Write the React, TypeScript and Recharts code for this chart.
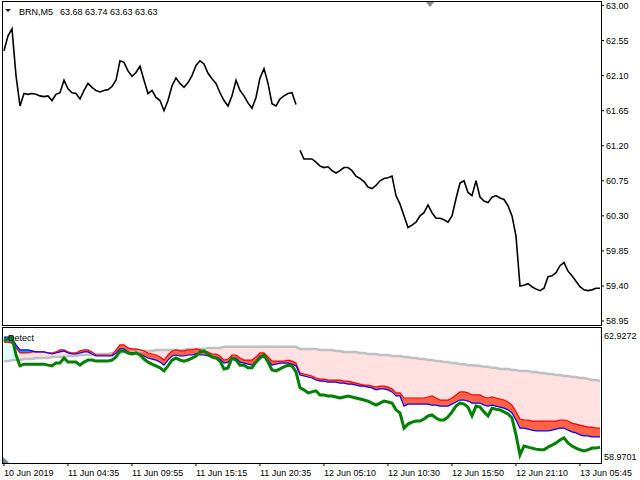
import React from "react";
import { LineChart, Line, ComposedChart, Area, XAxis, YAxis } from "recharts";

const FONT = '"Liberation Sans", Arial, sans-serif';

// x axis: one point per 4 bars (M5), tick every 16 points
const tickIdx = [0, 16, 32, 48, 64, 80, 96, 112, 128, 144];
const tickLabels = [
    "10 Jun 2019",
    "11 Jun 04:35",
    "11 Jun 09:55",
    "11 Jun 15:15",
    "11 Jun 20:35",
    "12 Jun 05:10",
    "12 Jun 10:30",
    "12 Jun 15:50",
    "12 Jun 21:10",
    "13 Jun 05:45",
];
const priceTicks = [63.0, 62.55, 62.1, 61.65, 61.2, 60.75, 60.3, 59.85, 59.4, 58.95];
const indMax = 62.9272;
const indMin = 58.9701;
const sessionBreak = 74; // first point of the 12 Jun session

const price = [
    62.42, 62.61, 62.70, 62.10, 61.71, 61.87, 61.86, 61.87, 61.86, 61.84,
    61.83, 61.84, 61.78, 61.86, 61.88, 62.04, 61.93, 61.88, 61.87, 61.80,
    61.91, 62.00, 61.95, 61.91, 61.89, 61.91, 61.92, 61.96, 62.04, 62.29,
    62.27, 62.16, 62.09, 62.14, 62.22, 62.04, 61.87, 61.91, 61.82, 61.78,
    61.65, 61.78, 61.97, 62.07, 62.00, 61.95, 62.01, 62.10, 62.23, 62.29,
    62.25, 62.13, 62.06, 62.00, 61.88, 61.78, 61.71, 61.84, 62.04, 61.91,
    61.84, 61.75, 61.68, 61.82, 62.07, 62.19, 62.00, 61.74, 61.71, 61.80,
    61.84, 61.87, 61.88, 61.73, 61.14, 61.03, 61.03, 61.03, 60.99, 60.94,
    60.92, 60.93, 60.88, 60.85, 60.88, 60.92, 60.92, 60.88, 60.81, 60.78,
    60.74, 60.67, 60.65, 60.69, 60.75, 60.78, 60.79, 60.81, 60.56, 60.45,
    60.30, 60.15, 60.18, 60.22, 60.30, 60.34, 60.44, 60.34, 60.27, 60.27,
    60.25, 60.22, 60.30, 60.52, 60.72, 60.75, 60.60, 60.56, 60.75, 60.54,
    60.49, 60.47, 60.54, 60.56, 60.53, 60.51, 60.43, 60.30, 60.04, 59.40,
    59.41, 59.43, 59.39, 59.36, 59.34, 59.37, 59.52, 59.53, 59.57, 59.66,
    59.70, 59.59, 59.53, 59.46, 59.39, 59.35, 59.34, 59.35, 59.37, 59.37,
];

const gray = [
    61.95, 61.95, 61.98, 61.98, 61.98, 62.01, 62.01, 62.01, 62.04, 62.04,
    62.04, 62.04, 62.07, 62.07, 62.07, 62.07, 62.10, 62.10, 62.10, 62.13,
    62.13, 62.13, 62.13, 62.16, 62.16, 62.16, 62.16, 62.19, 62.19, 62.19,
    62.22, 62.22, 62.22, 62.22, 62.25, 62.25, 62.25, 62.25, 62.28, 62.28,
    62.28, 62.28, 62.28, 62.28, 62.28, 62.28, 62.31, 62.31, 62.31, 62.31,
    62.31, 62.34, 62.34, 62.34, 62.34, 62.37, 62.37, 62.37, 62.37, 62.37,
    62.37, 62.37, 62.37, 62.37, 62.37, 62.37, 62.37, 62.37, 62.37, 62.37,
    62.37, 62.37, 62.37, 62.37, 62.31, 62.31, 62.31, 62.31, 62.31, 62.28,
    62.28, 62.28, 62.28, 62.25, 62.25, 62.22, 62.22, 62.22, 62.22, 62.19,
    62.19, 62.16, 62.16, 62.16, 62.13, 62.13, 62.13, 62.10, 62.10, 62.10,
    62.07, 62.07, 62.04, 62.04, 62.01, 62.01, 61.98, 61.98, 61.95, 61.95,
    61.92, 61.92, 61.89, 61.89, 61.86, 61.86, 61.83, 61.83, 61.81, 61.81,
    61.78, 61.78, 61.75, 61.75, 61.72, 61.72, 61.72, 61.69, 61.69, 61.66,
    61.66, 61.66, 61.63, 61.63, 61.60, 61.60, 61.57, 61.57, 61.54, 61.54,
    61.51, 61.51, 61.48, 61.48, 61.45, 61.45, 61.42, 61.39, 61.39, 61.36,
];

const red = [
    62.51, 62.51, 62.48, 62.34, 62.19, 62.19, 62.19, 62.22, 62.22, 62.22,
    62.22, 62.19, 62.19, 62.22, 62.28, 62.28, 62.22, 62.19, 62.19, 62.25,
    62.28, 62.28, 62.22, 62.13, 62.13, 62.13, 62.13, 62.13, 62.28, 62.43,
    62.43, 62.34, 62.31, 62.31, 62.28, 62.25, 62.19, 62.16, 62.13, 62.07,
    61.98, 62.13, 62.25, 62.28, 62.25, 62.25, 62.28, 62.28, 62.31, 62.28,
    62.25, 62.22, 62.16, 62.16, 62.10, 61.98, 62.01, 62.13, 62.13, 62.04,
    61.98, 61.98, 61.98, 62.07, 62.19, 62.19, 62.07, 61.95, 61.95, 61.95,
    61.95, 61.98, 61.95, 61.89, 61.60, 61.57, 61.54, 61.51, 61.45, 61.42,
    61.42, 61.39, 61.39, 61.39, 61.39, 61.36, 61.36, 61.33, 61.30, 61.27,
    61.24, 61.24, 61.21, 61.18, 61.21, 61.21, 61.18, 61.13, 61.01, 61.01,
    60.86, 60.86, 60.86, 60.86, 60.86, 60.86, 60.89, 60.92, 60.86, 60.80,
    60.80, 60.80, 60.86, 60.95, 61.04, 61.04, 61.01, 60.95, 60.95, 60.95,
    60.89, 60.86, 60.89, 60.86, 60.83, 60.80, 60.74, 60.65, 60.45, 60.24,
    60.21, 60.21, 60.18, 60.18, 60.18, 60.18, 60.18, 60.18, 60.18, 60.21,
    60.21, 60.18, 60.12, 60.09, 60.06, 60.03, 60.00, 60.00, 59.97, 59.97,
];

const blue = [
    62.66, 62.66, 62.63, 62.43, 62.28, 62.28, 62.28, 62.25, 62.22, 62.22,
    62.22, 62.19, 62.16, 62.19, 62.22, 62.25, 62.19, 62.16, 62.16, 62.19,
    62.22, 62.22, 62.16, 62.10, 62.10, 62.10, 62.10, 62.10, 62.19, 62.31,
    62.31, 62.22, 62.19, 62.19, 62.16, 62.10, 62.04, 62.01, 61.98, 61.92,
    61.83, 61.98, 62.10, 62.13, 62.10, 62.10, 62.13, 62.13, 62.16, 62.13,
    62.13, 62.10, 62.07, 62.07, 62.01, 61.89, 61.92, 62.04, 62.04, 61.92,
    61.89, 61.86, 61.83, 61.95, 62.10, 62.10, 61.98, 61.83, 61.86, 61.89,
    61.89, 61.89, 61.86, 61.81, 61.54, 61.51, 61.48, 61.45, 61.39, 61.36,
    61.36, 61.33, 61.33, 61.33, 61.30, 61.30, 61.27, 61.27, 61.24, 61.21,
    61.21, 61.18, 61.16, 61.10, 61.13, 61.13, 61.10, 61.04, 60.92, 60.92,
    60.62, 60.68, 60.68, 60.68, 60.68, 60.68, 60.68, 60.65, 60.65, 60.62,
    60.62, 60.62, 60.68, 60.74, 60.80, 60.80, 60.77, 60.71, 60.71, 60.71,
    60.65, 60.62, 60.65, 60.62, 60.59, 60.56, 60.51, 60.42, 60.21, 59.97,
    59.97, 59.94, 59.91, 59.89, 59.89, 59.89, 59.89, 59.91, 59.94, 59.97,
    59.97, 59.91, 59.86, 59.83, 59.77, 59.74, 59.74, 59.71, 59.71, 59.71,
];

const green = [
    62.54, 62.63, 62.66, 62.13, 61.81, 61.86, 61.86, 61.86, 61.86, 61.86,
    61.86, 61.83, 61.81, 61.89, 61.89, 62.04, 61.92, 61.92, 61.92, 61.83,
    61.92, 61.98, 61.98, 61.95, 61.95, 61.95, 61.95, 61.98, 62.07, 62.25,
    62.25, 62.19, 62.16, 62.19, 62.13, 62.01, 61.92, 61.86, 61.81, 61.75,
    61.66, 61.81, 61.98, 62.04, 61.98, 61.95, 61.98, 62.04, 62.10, 62.22,
    62.25, 62.16, 62.07, 62.04, 61.95, 61.72, 61.75, 62.04, 61.98, 61.83,
    61.83, 61.75, 61.75, 61.92, 62.04, 62.13, 61.92, 61.69, 61.66, 61.72,
    61.78, 61.83, 61.81, 61.63, 61.16, 61.10, 61.01, 61.04, 61.07, 60.95,
    60.95, 60.92, 60.92, 60.89, 60.86, 60.89, 60.92, 60.89, 60.86, 60.83,
    60.80, 60.77, 60.71, 60.65, 60.71, 60.77, 60.74, 60.71, 60.51, 60.42,
    59.97, 60.09, 60.15, 60.18, 60.18, 60.24, 60.33, 60.36, 60.27, 60.21,
    60.21, 60.30, 60.45, 60.62, 60.71, 60.68, 60.59, 60.33, 60.62, 60.59,
    60.45, 60.33, 60.56, 60.53, 60.51, 60.45, 60.39, 60.27, 59.77, 59.18,
    59.44, 59.41, 59.38, 59.35, 59.33, 59.33, 59.41, 59.47, 59.53, 59.62,
    59.68, 59.53, 59.44, 59.38, 59.33, 59.30, 59.33, 59.38, 59.38, 59.41,
];

const mainData = price.map((p, i) => ({
    i,
    a: i < sessionBreak ? p : null,
    b: i >= sessionBreak ? p : null,
}));

const indData = green.map((g, i) => {
    const top = Math.max(red[i], blue[i]);
    const low = Math.min(red[i], blue[i]);
    const lo = Math.min(gray[i], top);
    const hi = Math.max(gray[i], top);
    const up = g > gray[i];
    return {
        i,
        gray: gray[i],
        red: red[i],
        blue: blue[i],
        green: g,
        pink: up ? [gray[i], gray[i]] : [lo, hi],
        cyan: up ? [lo, hi] : [gray[i], gray[i]],
        redBand: [low, red[i]],
        blueBand: [low, blue[i]],
    };
});

const xDomain = [-0.5, 149.25];

const TimeTick = ({ x, y, payload }: any) => {
    const k = tickIdx.indexOf(payload.value);
    return (
        <g>
            <line x1={x} x2={x} y1={y + 1} y2={y + 4} stroke="#000" />
            <text x={x} y={y + 14} fontSize={9} fontFamily={FONT} fill="#000" textAnchor="start">
                {tickLabels[k]}
            </text>
        </g>
    );
};

const LevelTick = ({ x, y, payload }: any) => {
    const isTop = payload.value === indMax;
    return (
        <text x={x + 3} y={y + (isTop ? 10.5 : -2.5)} fontSize={9} fontFamily={FONT} fill="#000" textAnchor="start">
            {payload.value.toFixed(4)}
        </text>
    );
};

export default function App() {
    return (
        <div style={{ position: "absolute", left: 0, top: 0, width: 640, height: 480, background: "#fff", overflow: "hidden" }}>
            <div style={{ position: "absolute", left: 0, top: 0 }}>
                <LineChart width={640} height={326} data={mainData} margin={{ top: 2, right: 1, bottom: 1, left: 2 }}>
                    <XAxis dataKey="i" type="number" domain={xDomain} allowDataOverflow hide />
                    <YAxis
                        orientation="right"
                        domain={[58.899, 63.045]}
                        ticks={priceTicks}
                        allowDataOverflow
                        width={38}
                        axisLine={false}
                        tickSize={3}
                        tickMargin={2}
                        tickLine={{ stroke: "#000" }}
                        tick={{ fill: "#000", fontSize: 9, fontFamily: FONT }}
                        tickFormatter={(v: number) => v.toFixed(2)}
                        interval={0}
                    />
                    <Line dataKey="a" stroke="#000" strokeWidth={1.6} dot={false} isAnimationActive={false} />
                    <Line dataKey="b" stroke="#000" strokeWidth={1.6} dot={false} isAnimationActive={false} />
                </LineChart>
            </div>
            <div style={{ position: "absolute", left: 0, top: 327 }}>
                <ComposedChart width={640} height={153} data={indData} margin={{ top: 1, right: 1, bottom: 0, left: 2 }}>
                    <XAxis
                        dataKey="i"
                        type="number"
                        domain={xDomain}
                        allowDataOverflow
                        ticks={tickIdx}
                        interval={0}
                        height={18}
                        axisLine={false}
                        tickLine={false}
                        tickSize={0}
                        tickMargin={0}
                        tick={<TimeTick />}
                    />
                    <YAxis
                        orientation="right"
                        domain={[indMin, indMax]}
                        ticks={[indMax, indMin]}
                        allowDataOverflow
                        width={38}
                        axisLine={false}
                        tickLine={false}
                        tickSize={0}
                        tickMargin={0}
                        interval={0}
                        tick={<LevelTick />}
                    />
                    <Area dataKey="pink" stroke="none" fill="#ffe1e1" fillOpacity={1} isAnimationActive={false} />
                    <Area dataKey="cyan" stroke="none" fill="#dfffff" fillOpacity={1} isAnimationActive={false} />
                    <Area dataKey="redBand" stroke="none" fill="#ff6347" fillOpacity={1} isAnimationActive={false} />
                    <Area dataKey="blueBand" stroke="none" fill="#1e90ff" fillOpacity={1} isAnimationActive={false} />
                    <Line dataKey="gray" stroke="#c0c0c0" strokeWidth={2.5} dot={false} isAnimationActive={false} />
                    <Line dataKey="red" stroke="#ff0000" strokeWidth={1.2} dot={false} isAnimationActive={false} />
                    <Line dataKey="blue" stroke="#0000ff" strokeWidth={1.2} dot={false} isAnimationActive={false} />
                    <Line dataKey="green" stroke="#008000" strokeWidth={3} dot={false} isAnimationActive={false} />
                </ComposedChart>
            </div>
            {/* panel frames */}
            <div style={{ position: "absolute", left: 2, top: 1, width: 600, height: 325, border: "1px solid #000", boxSizing: "border-box", pointerEvents: "none" }} />
            <div style={{ position: "absolute", left: 2, top: 327, width: 600, height: 137, border: "1px solid #000", boxSizing: "border-box", pointerEvents: "none" }} />
            <svg width={640} height={480} style={{ position: "absolute", left: 0, top: 0, pointerEvents: "none" }}>
                <polygon points="5,9 11,9 8,12" fill="#222" />
                <polygon points="426,2 434,2 430,7" fill="#8a8a8a" />
                <polygon points="3,457 3,463 9,463" fill="#708090" />
                <text x={19} y={15} fontSize={9} fontFamily={FONT} fill="#000">BRN,M5</text>
                <text x={60} y={15} fontSize={9} fontFamily={FONT} fill="#000">63.68 63.74 63.63 63.63</text>
                <text x={8} y={341} fontSize={9} fontFamily={FONT} fill="#000">Detect</text>
            </svg>
        </div>
    );
}
